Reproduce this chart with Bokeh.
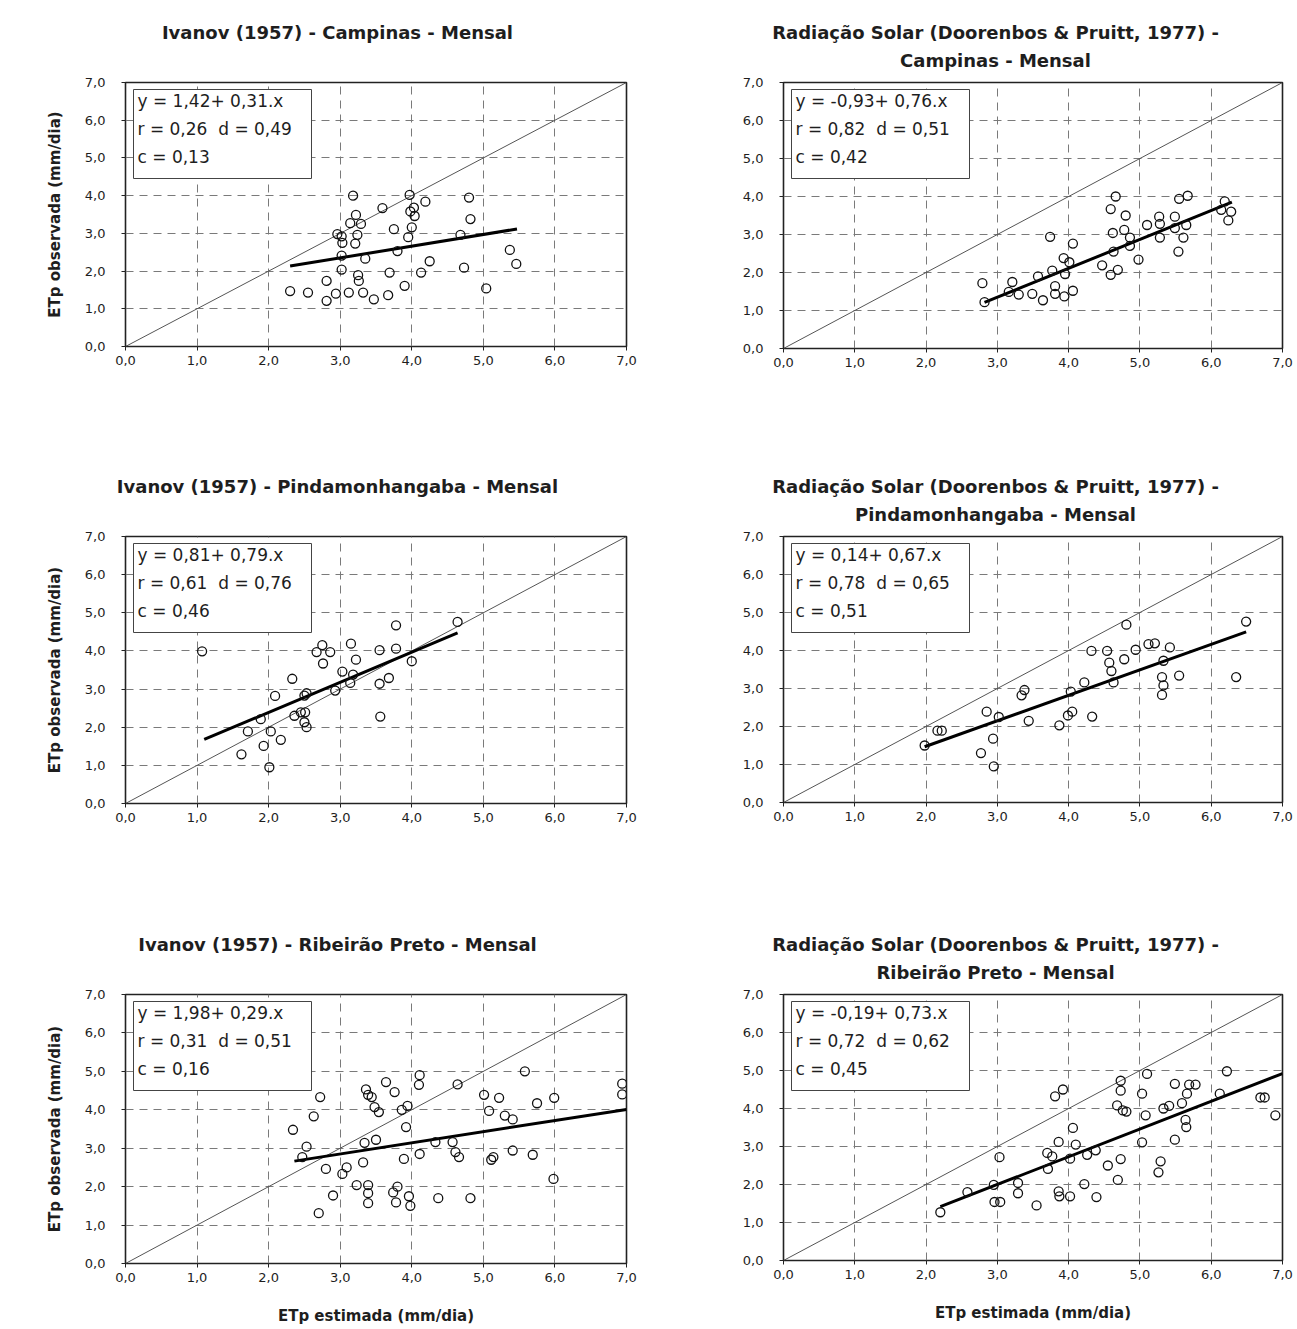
from bokeh.plotting import figure
from bokeh.layouts import column, row
from bokeh.models import Range1d, FixedTicker, Label, BoxAnnotation, Title
from bokeh.embed import file_html
from bokeh.resources import INLINE

# ---------------- data ----------------
TICKS = [0, 1, 2, 3, 4, 5, 6, 7]
TICK_LABELS = ["0,0", "1,0", "2,0", "3,0", "4,0", "5,0", "6,0", "7,0"]
DIAG = [0.0, 7.0]

TITLES = [
    ["Ivanov (1957) - Campinas - Mensal"],
    ["Radiação Solar (Doorenbos & Pruitt, 1977) -", "Campinas - Mensal"],
    ["Ivanov (1957) - Pindamonhangaba - Mensal"],
    ["Radiação Solar (Doorenbos & Pruitt, 1977) -", "Pindamonhangaba - Mensal"],
    ["Ivanov (1957) - Ribeirão Preto - Mensal"],
    ["Radiação Solar (Doorenbos & Pruitt, 1977) -", "Ribeirão Preto - Mensal"],
]
Y_LABEL = "ETp observada (mm/dia)"
X_LABEL = "ETp estimada (mm/dia)"

# regression coefficients and statistics
REG_A = [1.42, -0.93, 0.81, 0.14, 1.98, -0.19]
REG_B = [0.31, 0.76, 0.79, 0.67, 0.29, 0.73]
STAT_R = [0.26, 0.82, 0.61, 0.78, 0.31, 0.72]
STAT_D = [0.49, 0.51, 0.76, 0.65, 0.51, 0.62]
STAT_C = [0.13, 0.42, 0.46, 0.51, 0.16, 0.45]
REG_X0 = [2.30, 2.82, 1.10, 1.98, 2.36, 2.20]
REG_X1 = [5.47, 6.29, 4.64, 6.49, 7.00, 7.00]

IVA_CAMP_X = [3.18, 3.97, 4.19, 4.80, 3.59, 3.98, 4.03, 4.04, 3.22, 4.82, 3.14, 3.29, 3.75, 4.00, 2.96,
              3.02, 3.24, 3.95, 4.68, 3.03, 3.21, 3.80, 5.37, 3.02, 3.35, 4.25, 5.46, 3.02, 3.69, 4.13,
              4.73, 3.25, 3.26, 2.81, 3.90, 5.04, 2.30, 2.55, 2.94, 3.12, 3.32, 3.67, 2.81, 3.47]
IVA_CAMP_Y = [4.00, 4.02, 3.84, 3.95, 3.67, 3.58, 3.68, 3.46, 3.49, 3.38, 3.27, 3.25, 3.11, 3.16, 2.98,
              2.92, 2.96, 2.90, 2.96, 2.75, 2.73, 2.53, 2.56, 2.41, 2.33, 2.26, 2.19, 2.04, 1.96, 1.96,
              2.09, 1.89, 1.74, 1.74, 1.61, 1.54, 1.47, 1.43, 1.40, 1.43, 1.43, 1.36, 1.21, 1.25]

RAD_CAMP_X = [2.79, 2.82, 3.21, 3.16, 3.30, 3.49, 3.64, 3.57, 3.74, 3.77, 3.81, 3.81, 3.94, 4.06, 3.93,
              4.01, 3.95, 4.06, 4.47, 4.59, 4.69, 4.66, 4.59, 4.62, 4.63, 4.80, 4.78, 4.86, 4.86, 4.98,
              5.10, 5.27, 5.28, 5.28, 5.49, 5.49, 5.55, 5.67, 5.54, 5.61, 5.65, 6.19, 6.14, 6.28, 6.24]
RAD_CAMP_Y = [1.72, 1.22, 1.75, 1.49, 1.42, 1.44, 1.27, 1.90, 2.94, 2.05, 1.64, 1.44, 1.37, 1.52, 2.38,
              2.27, 1.96, 2.76, 2.19, 1.94, 2.07, 4.00, 3.67, 3.04, 2.55, 3.50, 3.12, 2.92, 2.70, 2.34,
              3.25, 3.47, 3.28, 2.92, 3.47, 3.17, 3.94, 4.02, 2.55, 2.92, 3.25, 3.87, 3.65, 3.60, 3.37]

IVA_PIND_X = [1.07, 1.62, 1.71, 1.89, 1.93, 2.01, 2.03, 2.09, 2.17, 2.33, 2.36, 2.45, 2.51, 2.50, 2.53,
              2.50, 2.53, 2.67, 2.75, 2.86, 2.76, 2.93, 3.03, 3.14, 3.15, 3.22, 3.18, 3.55, 3.55, 3.56,
              3.68, 3.78, 3.78, 4.00, 4.64]
IVA_PIND_Y = [3.99, 1.29, 1.89, 2.21, 1.51, 0.95, 1.89, 2.82, 1.67, 3.27, 2.30, 2.39, 2.39, 2.83, 2.89,
              2.13, 2.00, 3.97, 4.15, 3.97, 3.67, 2.96, 3.46, 3.16, 4.19, 3.77, 3.38, 4.02, 3.14, 2.28,
              3.29, 4.67, 4.06, 3.73, 4.76]

RAD_PIND_X = [1.98, 2.16, 2.22, 2.77, 2.85, 2.94, 2.95, 3.02, 3.34, 3.38, 3.44, 3.87, 3.99, 4.05, 4.03,
              4.22, 4.32, 4.33, 4.54, 4.57, 4.60, 4.63, 4.78, 4.81, 4.94, 5.12, 5.21, 5.33, 5.31, 5.33,
              5.31, 5.42, 5.55, 6.35, 6.49]
RAD_PIND_Y = [1.50, 1.89, 1.89, 1.30, 2.39, 1.68, 0.95, 2.25, 2.82, 2.96, 2.15, 2.03, 2.29, 2.39, 2.92,
              3.16, 3.99, 2.26, 3.99, 3.68, 3.46, 3.16, 3.77, 4.68, 4.02, 4.17, 4.19, 3.73, 3.30, 3.08,
              2.83, 4.08, 3.34, 3.30, 4.76]

IVA_RIB_X = [2.34, 2.47, 2.53, 2.63, 2.72, 2.70, 2.80, 2.90, 3.03, 3.09, 3.23, 3.32, 3.36, 3.39, 3.44,
             3.48, 3.54, 3.34, 3.50, 3.39, 3.39, 3.39, 3.64, 3.76, 3.74, 3.80, 3.78, 3.86, 3.94, 3.92,
             3.89, 3.96, 3.98, 4.11, 4.10, 4.11, 4.33, 4.37, 4.57, 4.61, 4.66, 4.64, 4.82, 5.01, 5.08,
             5.22, 5.30, 5.41, 5.11, 5.14, 5.41, 5.58, 5.75, 5.69, 5.99, 5.98, 6.94, 6.94]
IVA_RIB_Y = [3.48, 2.77, 3.04, 3.83, 4.33, 1.31, 2.46, 1.77, 2.33, 2.50, 2.04, 2.63, 4.53, 4.39, 4.33,
             4.07, 3.94, 3.14, 3.22, 2.04, 1.83, 1.57, 4.72, 4.46, 1.85, 2.00, 1.59, 4.00, 4.10, 3.55,
             2.72, 1.75, 1.50, 4.90, 4.65, 2.85, 3.16, 1.70, 3.16, 2.90, 2.77, 4.66, 1.70, 4.39, 3.97,
             4.31, 3.85, 3.75, 2.70, 2.77, 2.94, 5.00, 4.17, 2.83, 4.31, 2.20, 4.68, 4.40]

RAD_RIB_X = [2.20, 2.58, 2.95, 2.96, 3.04, 3.03, 3.29, 3.29, 3.55, 3.70, 3.71, 3.77, 3.86, 3.81, 3.92,
             3.86, 3.87, 4.02, 4.02, 4.06, 4.10, 4.22, 4.26, 4.38, 4.39, 4.55, 4.68, 4.73, 4.73, 4.76,
             4.81, 4.73, 4.69, 5.03, 5.03, 5.10, 5.08, 5.29, 5.26, 5.33, 5.41, 5.49, 5.49, 5.59, 5.64,
             5.65, 5.66, 5.69, 5.78, 6.12, 6.22, 6.69, 6.75, 6.90]
RAD_RIB_Y = [1.27, 1.80, 1.99, 1.54, 1.54, 2.72, 2.04, 1.77, 1.45, 2.83, 2.41, 2.74, 3.12, 4.32, 4.50,
             1.82, 1.69, 1.69, 2.68, 3.49, 3.05, 2.01, 2.78, 2.90, 1.67, 2.50, 4.08, 4.73, 4.47, 3.95,
             3.92, 2.67, 2.12, 3.11, 4.39, 4.91, 3.82, 2.61, 2.32, 4.00, 4.07, 3.18, 4.65, 4.14, 3.70,
             3.51, 4.39, 4.63, 4.63, 4.39, 4.98, 4.29, 4.29, 3.82]

SERIES_X = [IVA_CAMP_X, RAD_CAMP_X, IVA_PIND_X, RAD_PIND_X, IVA_RIB_X, RAD_RIB_X]
SERIES_Y = [IVA_CAMP_Y, RAD_CAMP_Y, IVA_PIND_Y, RAD_PIND_Y, IVA_RIB_Y, RAD_RIB_Y]

# ---------------- layout / style ----------------
FIG_X = [0, 650]
FIG_W = [650, 646]
FRAME_L = [125, 783]
FRAME_W = [501, 499]
ROW_Y = [0, 455, 905]
ROW_H = [455, 450, 424]
FRAME_T = [[82, 78], [536, 535], [994, 994]]
FRAME_B = [[346, 344], [803, 801], [1263, 1260]]

TEXT_COLOR = "#1e1e1e"
TITLE_FONT = "DejaVu Sans"
BODY_FONT = "DejaVu Sans"
TITLE_SIZE = 18
TITLE_CENTER = 212  # title centre, px right of the frame's left edge

# approximate advance widths (em) of DejaVu Sans Bold, for centring titles
BOLD_W = {" ": .348, "(": .457, ")": .457, "-": .416, ",": .381, "&": .862,
          "C": .734, "D": .830, "I": .372, "M": .995, "P": .733, "R": .770, "S": .720,
          "a": .675, "b": .716, "c": .593, "d": .716, "e": .678, "g": .716, "h": .712,
          "i": .343, "l": .343, "m": 1.042, "n": .712, "o": .687, "p": .716, "r": .493,
          "s": .595, "t": .478, "u": .712, "v": .652, "ç": .593, "ã": .675}


def text_w(s, size):
    return sum(BOLD_W.get(ch, .696 if ch.isdigit() else .65) for ch in s) * size


def fmt(v):
    return f"{v:.2f}".replace(".", ",")


def make_title(text, standoff):
    return Title(text=text, align="left",
                 offset=TITLE_CENTER - text_w(text, TITLE_SIZE) / 2,
                 vertical_align="bottom", standoff=standoff,
                 text_font=TITLE_FONT, text_font_size=f"{TITLE_SIZE}px",
                 text_font_style="bold", text_color=TEXT_COLOR)


def make_panel(idx):
    r, c = divmod(idx, 2)
    fl, fw, fx, W = FRAME_L[c], FRAME_W[c], FIG_X[c], FIG_W[c]
    ft, fb, ry, H = FRAME_T[r][c], FRAME_B[r][c], ROW_Y[r], ROW_H[r]
    fh = fb - ft

    p = figure(frame_width=fw, frame_height=fh, title=None,
               min_border_left=fl - fx, min_border_right=fx + W - fl - fw,
               min_border_top=ft - ry, min_border_bottom=ry + H - fb,
               x_range=Range1d(0, 7), y_range=Range1d(0, 7),
               output_backend="svg", toolbar_location=None,
               background_fill_color="white", border_fill_color="white")

    def dx(px):
        return (px - fl) / fw * 7.0

    def dy(py):
        return (fb - py) / fh * 7.0

    overrides = {t: lab for t, lab in zip(TICKS, TICK_LABELS)}
    for ax in (p.xaxis, p.yaxis):
        ax.ticker = FixedTicker(ticks=TICKS)
        ax.major_label_overrides = overrides
        ax.axis_line_color = None
        ax.major_tick_in = 0
        ax.major_tick_out = 4
        ax.major_tick_line_color = "#222222"
        ax.minor_tick_line_color = None
        ax.major_label_text_font = BODY_FONT
        ax.major_label_text_font_size = "13px"
        ax.major_label_text_color = TEXT_COLOR
        ax.axis_label_text_font = TITLE_FONT
        ax.axis_label_text_font_size = "15px"
        ax.axis_label_text_font_style = "bold"
        ax.axis_label_text_color = TEXT_COLOR
    p.xaxis.major_label_standoff = 5
    p.yaxis.major_label_standoff = 16
    if c == 0:
        p.yaxis.axis_label = Y_LABEL
        p.yaxis.axis_label_standoff = 18
    if r == 2:
        p.xaxis.axis_label = X_LABEL
        p.xaxis.axis_label_standoff = 22

    p.grid.grid_line_color = "#7a7a7a"
    p.grid.grid_line_width = 1
    p.grid.grid_line_dash = "8 6"
    p.outline_line_color = "#222222"
    p.outline_line_width = 1.6
    p.outline_line_alpha = 1.0

    # 1:1 line
    p.line(DIAG, DIAG, line_color="#555555", line_width=1)
    # regression line
    a, b = REG_A[idx], REG_B[idx]
    xs = [REG_X0[idx], REG_X1[idx]]
    p.line(xs, [a + b * x for x in xs], line_color="black", line_width=3)
    # points
    p.scatter(SERIES_X[idx], SERIES_Y[idx], marker="circle", size=9,
              fill_color=None, line_color="#111111", line_width=1.3)

    # statistics box
    p.add_layout(BoxAnnotation(left=dx(fl + 8), right=dx(fl + 186),
                               top=dy(ft + 7), bottom=dy(ft + 96),
                               fill_color="white", fill_alpha=1.0,
                               line_color="#444444", line_width=1, line_alpha=1.0))
    lines = [f"y = {fmt(a)}+ {fmt(b)}.x",
             f"r = {fmt(STAT_R[idx])} \u00a0d = {fmt(STAT_D[idx])}",
             f"c = {fmt(STAT_C[idx])}"]
    for k, txt in enumerate(lines):
        p.add_layout(Label(x=dx(fl + 12), y=dy(ft + 18 + 28 * k), text=txt,
                           text_align="left", text_baseline="middle",
                           text_font=BODY_FONT, text_font_size="17px",
                           text_color=TEXT_COLOR))

    # titles: first added sits next to the frame
    tl = TITLES[idx]
    if len(tl) == 1:
        p.add_layout(make_title(" ", 24), "above")   # spacer line
        p.add_layout(make_title(tl[0], -14), "above")
    else:
        p.add_layout(make_title(tl[1], 24), "above")
        p.add_layout(make_title(tl[0], -14), "above")
    return p


panels = [make_panel(i) for i in range(6)]
layout = column(row(panels[0], panels[1]), row(panels[2], panels[3]), row(panels[4], panels[5]))

open("out.html", "w").write(file_html(layout, INLINE))
